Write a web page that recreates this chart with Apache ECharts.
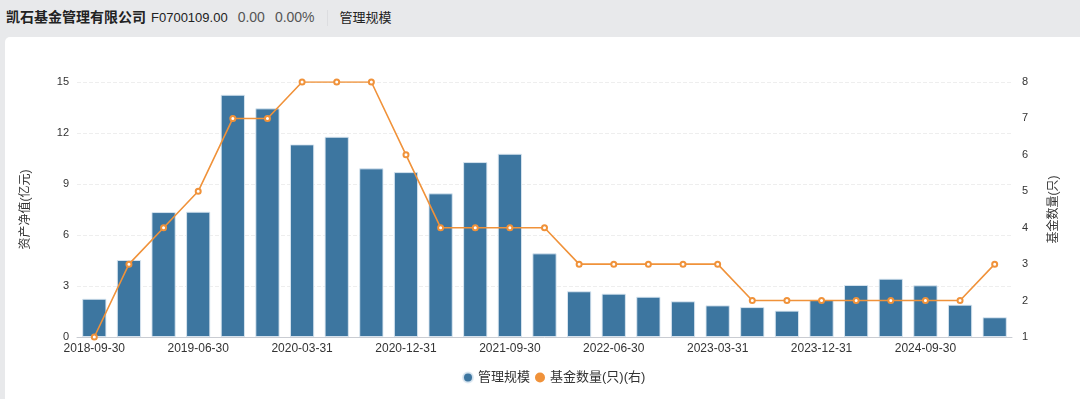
<!DOCTYPE html>
<html>
<head>
<meta charset="utf-8">
<script src="https://cdn.jsdelivr.net/npm/echarts@6/dist/echarts.min.js"></script>
<style>
  html, body { margin: 0; padding: 0; width: 1080px; height: 399px; overflow: hidden; background: #e8e9eb; font-family: 'Liberation Sans', 'Noto Sans CJK SC', sans-serif; }
  .head { height: 37px; line-height: 34px; padding-left: 6px; white-space: nowrap; color: #222; }
  .head .name { font-size: 14px; font-weight: bold; }
  .head .code { font-size: 13px; margin-left: 5px; }
  .head .num { font-size: 14px; color: #555; margin-left: 10px; }
  .head .sep { display: inline-block; width: 1px; height: 16px; background: #dcdde0; vertical-align: middle; margin: 0 12px 0 12px; }
  .head .tab { font-size: 13px; }
  .card { position: absolute; left: 5px; top: 37px; width: 1075px; height: 362px; background: #fff; border-top-left-radius: 5px; }
  #chart { position: absolute; left: -5px; top: -37px; width: 1080px; height: 399px; }
</style>
</head>
<body>
<div class="head"><span class="name">凯石基金管理有限公司</span><span class="code">F0700109.00</span><span class="num">0.00</span><span class="num">0.00%</span><span class="sep"></span><span class="tab">管理规模</span></div>
<div class="card"><div id="chart"></div></div>
<script>
const dates = ['2018-09-30', '2018-12-31', '2019-03-31', '2019-06-30', '2019-09-30', '2019-12-31',
  '2020-03-31', '2020-06-30', '2020-09-30', '2020-12-31', '2021-03-31', '2021-06-30', '2021-09-30',
  '2021-12-31', '2022-03-31', '2022-06-30', '2022-09-30', '2022-12-31', '2023-03-31', '2023-06-30',
  '2023-09-30', '2023-12-31', '2024-03-31', '2024-06-30', '2024-09-30', '2024-12-31', '2025-03-31']
const scale = [2.25, 4.53, 7.35, 7.37, 14.25, 13.45, 11.33, 11.78, 9.92, 9.7, 8.45, 10.29, 10.78,
  4.92, 2.69, 2.55, 2.37, 2.1, 1.86, 1.76, 1.55, 2.18, 3.06, 3.43, 3.04, 1.9, 1.16]
const fundCount = [1, 3, 4, 5, 7, 7, 8, 8, 8, 6, 4, 4, 4, 4, 3, 3, 3, 3, 3, 2, 2, 2, 2, 2, 2, 2, 3]
const leftTicks = [0, 3, 6, 9, 12, 15]
const rightTicks = [1, 2, 3, 4, 5, 6, 7, 8]

const chart = echarts.init(document.getElementById('chart'))
const font = "'Liberation Sans', 'Noto Sans CJK SC', sans-serif"

chart.setOption({
  animation: false,
  textStyle: { fontFamily: font },
  grid: { left: 77, right: 68, top: 82, bottom: 62 },
  legend: {
    left: 457,
    bottom: 10,
    icon: 'circle',
    itemWidth: 10,
    itemHeight: 10,
    itemGap: 5,
    textStyle: { color: '#333', fontSize: 13, fontFamily: font },
    data: ['管理规模', '基金数量(只)(右)']
  },
  xAxis: {
    type: 'category',
    data: dates,
    axisLine: { lineStyle: { color: '#c9ccd2' } },
    axisTick: { alignWithLabel: true, interval: 2, length: 4, lineStyle: { color: '#c9ccd2' } },
    axisLabel: { interval: 2, color: '#333', fontSize: 12, margin: 6 }
  },
  yAxis: [{
    type: 'value',
    name: '资产净值(亿元)',
    nameLocation: 'middle',
    nameGap: 45,
    nameRotate: 90,
    nameTextStyle: { color: '#333', fontSize: 12 },
    min: leftTicks[0],
    max: leftTicks[leftTicks.length - 1],
    interval: 3,
    axisLine: { show: false },
    axisTick: { show: false },
    axisLabel: { color: '#333', fontSize: 11, margin: 8 },
    splitLine: { lineStyle: { color: '#eeeeee', type: 'dashed' } }
  }, {
    type: 'value',
    name: '基金数量(只)',
    nameLocation: 'middle',
    nameGap: 36,
    nameRotate: 90,
    nameTextStyle: { color: '#333', fontSize: 12 },
    min: rightTicks[0],
    max: rightTicks[rightTicks.length - 1],
    interval: 1,
    axisLine: { show: false },
    axisTick: { show: false },
    axisLabel: { color: '#333', fontSize: 11, margin: 10 },
    splitLine: { show: false }
  }],
  series: [{
    name: '管理规模',
    type: 'bar',
    data: scale,
    barWidth: '70%',
    itemStyle: { color: '#3d76a0', borderColor: 'rgba(220,232,242,0.9)', borderWidth: 1 }
  }, {
    name: '基金数量(只)(右)',
    type: 'line',
    yAxisIndex: 1,
    data: fundCount,
    symbol: 'emptyCircle',
    symbolSize: 5,
    lineStyle: { color: '#f0923a', width: 1.6 },
    itemStyle: { color: '#f0923a', borderWidth: 1.2 }
  }]
})
</script>
</body>
</html>
